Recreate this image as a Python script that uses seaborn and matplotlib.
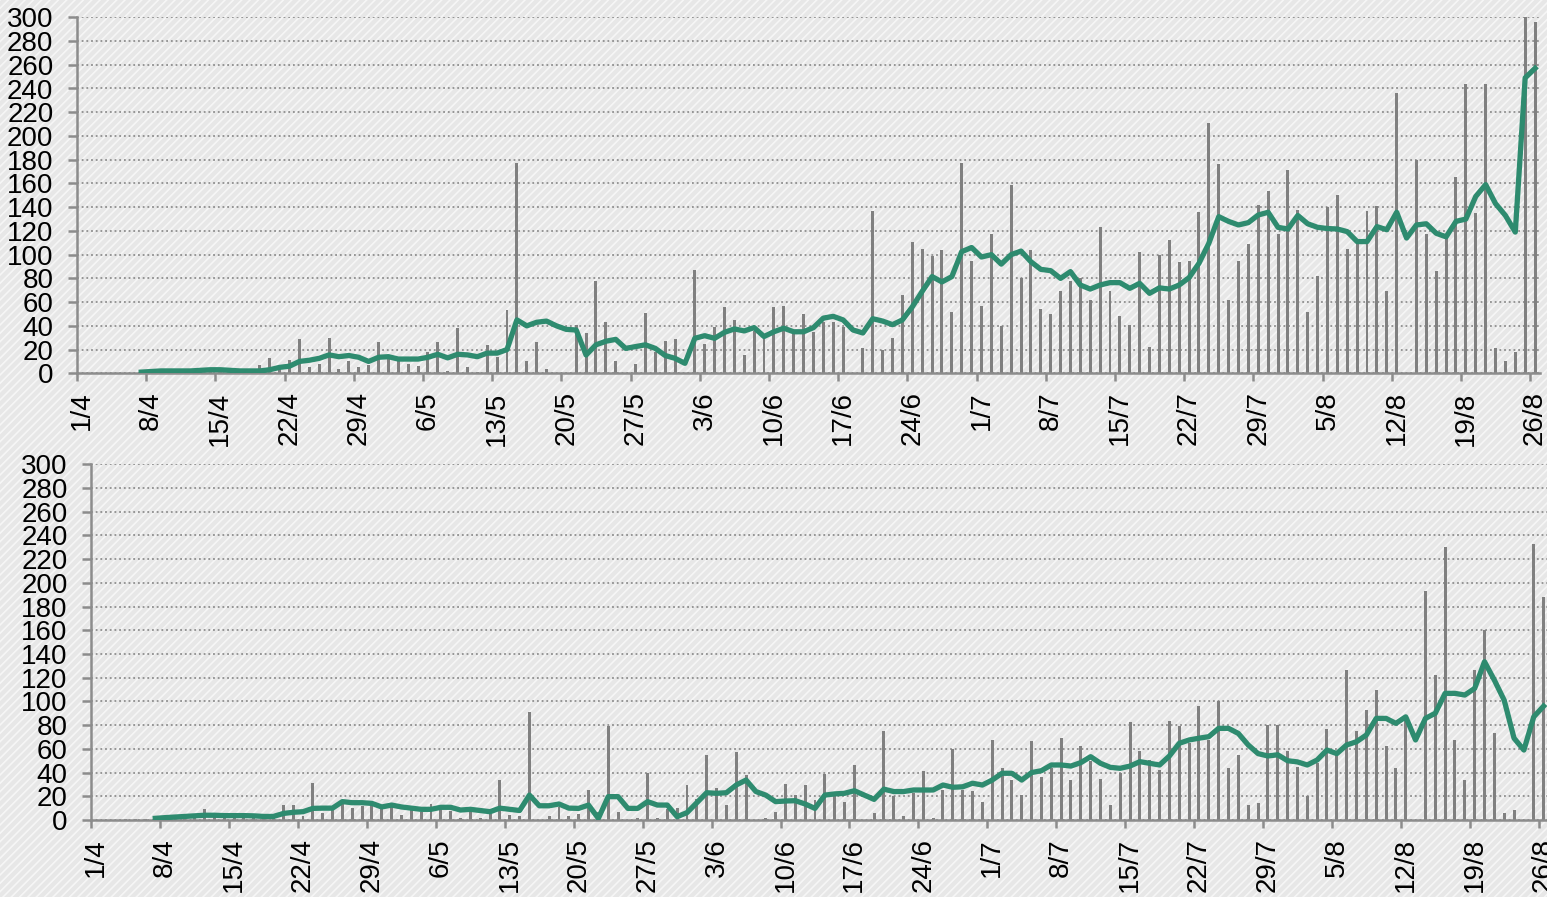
import numpy as np
import pandas as pd
import matplotlib
matplotlib.use("Agg")
import matplotlib.pyplot as plt
import seaborn as sns
from matplotlib.patches import Rectangle

# Daily categories 1/4 .. 26/8
days = pd.date_range("2020-04-01", "2020-08-26", freq="D")
day_labels = [f"{d.day}/{d.month}" for d in days]
trend_start_label = "7/4"

# Upper panel: daily counts
top_bars = [
    0, 0, 0, 0, 0, 0, 1, 0, 1, 2, 1, 1, 2, 2, 1, 2, 1, 2,
    7, 13, 4, 11, 29, 5, 8, 30,
    4, 10, 5, 7, 26, 12, 10, 8, 6, 18, 26, 2, 38, 5, 1, 24, 14, 53, 177, 10, 26, 4, -1, -1, 41,
    34, 78, 43, 10, -1, 8, 51, 18, 27, 29, -1, 87, 25, 39, 56, 45, 15, 36, 30, 56, 57, 36, 50, 35, 43,
    43, 39, 0, 21, 137, 20, 30, 66, 111, 105, 99, 104, 52, 177, 95, 57, 117, 40, 159, 80, 104, 54, 50, 69, 78,
    80, 62, 123, 69, 48, 41, 102, 22, 100, 112, 94, 95, 136, 211, 176, 62, 95, 109, 142, 154, 117, 171, 138, 52,
    82, 140, 150, 105, 110, 137, 141, 69, 236, 0, 180, 117, 86, 117, 165, 244, 135, 244, 21, 10, 18, 300, 296,
]
# Upper panel: trend line from 7/4
top_trend = [
    1, 1.5, 2, 2, 2, 2, 2.5, 3, 3, 2.5, 2, 2, 2, 3, 5, 6,
    10, 11, 12.6, 15.5,
    14, 15, 13.5, 10, 13.5, 14, 12, 12, 12, 13.5, 16, 13, 16, 15.5, 14, 17, 17, 20, 45, 40, 43, 44, 40, 37, 36.5,
    15.4, 24, 27, 28.6, 21, 22.5, 24, 21, 15, 12.6, 8.4, 29.5, 31.7, 29.5, 34.5, 37.4, 35.7, 38.5, 31, 35, 38, 35, 35, 38.5, 46.5,
    48, 45, 36.5, 34, 46, 44, 41, 45, 56, 69, 81.5, 77, 81.5, 102.5, 106, 98, 100, 92, 100, 103, 94, 87.6, 86.5, 80, 85.7,
    74.4, 71, 74.4, 76.4, 76.4, 71.6, 75.8, 67.4, 72, 71, 74.4, 80.6, 92.7, 109.6, 132, 128, 125, 127, 133.4, 135.7, 123, 121.6, 133, 126,
    123, 122, 121.6, 119.4, 111, 111, 123.6, 121, 135.7, 114, 125, 126, 118, 115, 128, 130, 149, 159, 143, 133, 119, 249, 257,
]

# Lower panel: daily counts
bottom_bars = [
    0, 0, 0, 1, 1, 1,
    0, 1, 2, 2, 2, 9, 3, 2, 4, 3, 2, 4, 3,
    13, 13, 3, 31, 6,
    10, 17, 10, 12, 14, 9, 14, 4, 12, 7, 13.5, 9, 8, 1.4, 7, 1.4, 5, 34, 4, 3, 91, -2, 3, 11, 3,
    5, 25, 7, 79, 7, -1.4, 2, 40, 1.4, 9, 10, 29.5, 18, 54.5, 27, 12.6, 57.4, 38, -1.4, 2, 7, 30, 21, 29.5, 17, 38.5,
    20, 15.5, 46, 0, 6, 75, 20, 3.4, 22.5, 41, 1.4, 25, 60, 25, 24.5, 15.5, 67.5, 44, 34, 21, 66.6, 36.5, 43.6, 69.4, 34,
    62, 50, 35, 12.6, 40, 83, 58, 50.6, 42, 83.5, 79, 65, 96, 67.5, 100, 43.6, 54.5, 12.6, 14, 80, 80, 58, 45, 20,
    48, 76.5, 55, 126.5, 75, 93, 110, 62, 44, 84, 0, 193, 122, 230.5, 67.5, 34, 126.5, 160, 73, 6, 8.4, 0, 233, 188,
]
# Lower panel: trend line from 7/4
bottom_trend = [
    1.4, 2, 2.5, 3, 3.5, 4, 4, 3.7, 3.7, 3.7, 3.5, 3, 3, 5.5, 6.5, 7, 9.8,
    10, 10, 15.5, 14.6, 14.6, 14, 11, 12.6, 11, 10, 9, 9, 10.7, 10.7, 8.4, 9, 8, 7, 10, 9, 8, 21, 12, 12, 13.5, 10, 9.8,
    12.6, 1.4, 19.7, 19.7, 9.8, 9.8, 15.5, 12.6, 12.6, 2.8, 6.2, 14.6, 23, 22.5, 23, 29.5, 33.7, 24, 21, 15.5, 16, 16.3, 13.5, 9.8, 21,
    22, 22.5, 24.7, 21, 17.4, 26, 24, 24, 25.3, 25.3, 25.3, 29.5, 27.6, 28, 31, 29.5, 33.7, 39.4, 39.4, 33.7, 40, 41.6, 46.4, 46.4, 45.5,
    48.4, 53.4, 47.8, 44.4, 43.6, 45.5, 49.2, 47.8, 46.4, 54, 64.7, 67.5, 69, 70.3, 77.3, 77.3, 73, 63.3, 56, 54, 55, 50, 49,
    46.4, 50.6, 59, 56, 63.3, 66, 71.7, 85.7, 85.7, 81.5, 87, 67.5, 85.7, 90, 106.8, 106.8, 105.4, 111, 133.5, 118, 101, 69, 59, 87, 96,
]

y_ticks = list(range(0, 301, 20))

BAR_COLOR = "#808080"
LINE_COLOR = "#2e8b6f"
AXIS_COLOR = "#8c8c8c"
GRID_COLOR = "#8e8e8e"
LABEL_SIZE = 20

plt.rcParams["font.family"] = ["Liberation Sans", "DejaVu Sans"]
plt.rcParams["hatch.linewidth"] = 1.2

W, H = 1547, 897
fig = plt.figure(figsize=(W / 100, H / 100), dpi=100)

# striped page background
fig.patches.append(Rectangle((0, 0), 1, 1, transform=fig.transFigure,
                             facecolor="#e7e7e7", edgecolor="#f6f6f6",
                             hatch="////", linewidth=0, zorder=-10))


def px_axes(left, right, top, bottom):
    return fig.add_axes([left / W, 1 - bottom / H, (right - left) / W, (bottom - top) / H])


def draw_panel(ax, bars, trend):
    n = len(day_labels)
    start = day_labels.index(trend_start_label)
    bar_df = pd.DataFrame({"day": np.arange(n), "value": bars})
    trend_df = pd.DataFrame({"day": np.arange(start, n), "value": trend})

    sns.barplot(data=bar_df, x="day", y="value", native_scale=True, width=0.3,
                color=BAR_COLOR, saturation=1, errorbar=None, ax=ax, zorder=2)
    sns.lineplot(data=trend_df, x="day", y="value", color=LINE_COLOR,
                 linewidth=3.8, ax=ax, zorder=3)

    ax.set_facecolor("none")
    ax.set_xlim(-0.5, n - 0.5)
    ax.set_ylim(0, 300)
    ax.set_xlabel("")
    ax.set_ylabel("")

    ax.set_yticks(y_ticks)
    ax.set_yticklabels([str(v) for v in y_ticks])
    ax.yaxis.grid(True, color=GRID_COLOR, linestyle=(0, (1, 1.6)), linewidth=1.3)
    ax.xaxis.grid(False)
    ax.set_axisbelow(True)

    label_pos = np.arange(0, n, 7)
    ax.set_xticks(label_pos)
    ax.set_xticklabels([day_labels[i] for i in label_pos], rotation=90,
                       ha="center", va="top")
    ax.set_xticks(label_pos - 0.5, minor=True)

    for side in ("top", "right"):
        ax.spines[side].set_visible(False)
    for side in ("left", "bottom"):
        ax.spines[side].set_color(AXIS_COLOR)
        ax.spines[side].set_linewidth(1.8)

    ax.tick_params(axis="y", which="major", length=6.5, width=1.8, color=AXIS_COLOR,
                   pad=10.5, labelsize=LABEL_SIZE, labelcolor="black")
    ax.tick_params(axis="x", which="major", length=0, pad=13, labelsize=LABEL_SIZE,
                   labelcolor="black")
    ax.tick_params(axis="x", which="minor", length=5.8, width=1.8, color=AXIS_COLOR)


ax_top = px_axes(77, 1540, 17.3, 373.3)
ax_bottom = px_axes(91.3, 1548.5, 464.3, 820)

draw_panel(ax_top, top_bars, top_trend)
draw_panel(ax_bottom, bottom_bars, bottom_trend)

fig.savefig("out.png", dpi=100)
